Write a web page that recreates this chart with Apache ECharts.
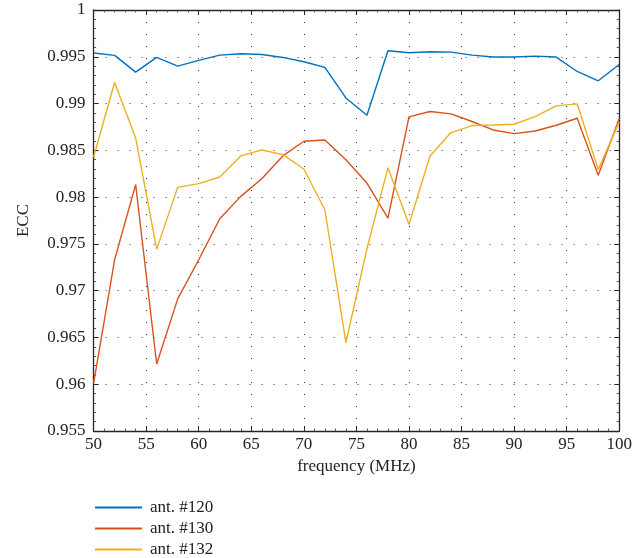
<!DOCTYPE html>
<html>
<head>
<meta charset="utf-8">
<script src="https://cdn.jsdelivr.net/npm/echarts@6/dist/echarts.min.js"></script>
<style>html,body{margin:0;padding:0;background:#fff;}#c{width:635px;height:558px;}</style>
</head>
<body>
<div id="c"></div>
<script>
const freq = [50,52,54,56,58,60,62,64,66,68,70,72,74,76,78,80,82,84,86,88,90,92,94,96,98,100];
const ant120 = [0.9954,0.99515,0.99336,0.99493,0.9940,0.99461,0.99518,0.99532,0.99525,0.99493,0.99447,0.99386,0.9906,0.98875,0.99564,0.99543,0.99554,0.9955,0.99518,0.99497,0.99497,0.99507,0.99497,0.99343,0.99243,0.99418];
const ant130 = [0.96008,0.9733,0.98133,0.96216,0.96912,0.9733,0.97769,0.98008,0.98197,0.9844,0.98597,0.98611,0.9840,0.9815,0.97776,0.98857,0.98915,0.9889,0.98808,0.98718,0.98679,0.98707,0.98768,0.98843,0.98233,0.9884];
const ant132 = [0.98429,0.99225,0.98633,0.97444,0.98104,0.98144,0.98215,0.9844,0.98504,0.98454,0.983,0.97865,0.96444,0.9745,0.98315,0.97708,0.9844,0.9869,0.98765,0.9877,0.98779,0.98861,0.98975,0.98997,0.98294,0.98804];
const seriesNames = ['ant. #120','ant. #130','ant. #132'];
const colors = ['#0072BD','#D95319','#EDB120'];
const yTicks = ['1','0.995','0.99','0.985','0.98','0.975','0.97','0.965','0.96','0.955'];

const font = '"Liberation Serif", "DejaVu Serif", serif';
const fs = 17;
const chart = echarts.init(document.getElementById('c'), null, {renderer:'canvas'});
const pair = a => freq.map((f,i)=>[f,a[i]]);
const gridLine = {show:true, lineStyle:{color:'#333', type:[1,11], width:1}};
const axLine = {show:true, onZero:false, lineStyle:{color:'#262626', width:1.3}};
const legendTops = [499, 520, 541];
chart.setOption({
  animation:false,
  color: colors,
  grid:{left:93.6, right:10.5, top:10, bottom:127, containLabel:false},
  xAxis:[{
    type:'value', min:50, max:100, interval:5, position:'bottom',
    name:'frequency (MHz)', nameLocation:'middle', nameGap:27,
    nameTextStyle:{fontFamily:font, fontSize:fs, color:'#222'},
    axisLine:axLine,
    axisTick:{show:true, inside:true, length:5, lineStyle:{color:'#262626'}},
    minorTick:{show:true, splitNumber:5, length:2.5, lineStyle:{color:'#555'}},
    axisLabel:{fontFamily:font, fontSize:fs, color:'#222', margin:5},
    splitLine:gridLine
  },{
    type:'value', min:50, max:100, interval:5, position:'top',
    axisLine:axLine,
    axisTick:{show:true, inside:true, length:5, lineStyle:{color:'#262626'}},
    minorTick:{show:true, splitNumber:5, length:2.5, lineStyle:{color:'#555'}},
    axisLabel:{show:false}, splitLine:{show:false}
  }],
  yAxis:[{
    type:'value', min:0.955, max:1, interval:0.005, position:'left',
    name:'ECC', nameLocation:'middle', nameGap:62, nameRotate:90,
    nameTextStyle:{fontFamily:font, fontSize:fs, color:'#222'},
    axisLine:axLine,
    axisTick:{show:true, inside:true, length:5, lineStyle:{color:'#262626'}},
    minorTick:{show:true, splitNumber:5, length:2.5, lineStyle:{color:'#555'}},
    axisLabel:{fontFamily:font, fontSize:fs, color:'#222', margin:8,
      formatter:(v)=>{const idx=Math.round((1-v)/0.005); return yTicks[idx]!==undefined?yTicks[idx]:'';}},
    splitLine:gridLine
  },{
    type:'value', min:0.955, max:1, interval:0.005, position:'right',
    axisLine:axLine,
    axisTick:{show:true, inside:true, length:5, lineStyle:{color:'#262626'}},
    minorTick:{show:true, splitNumber:5, length:2.5, lineStyle:{color:'#555'}},
    axisLabel:{show:false}, splitLine:{show:false}
  }],
  legend: seriesNames.map((n,i)=>({
    orient:'vertical', left:95, top:legendTops[i], itemWidth:47, itemHeight:2, padding:0,
    icon:'rect',
    textStyle:{fontFamily:font, fontSize:fs, color:'#222', padding:[0,0,0,3]},
    data:[n]
  })),
  series:[ant120,ant130,ant132].map((d,i)=>({
    name:seriesNames[i], type:'line', data:pair(d), showSymbol:false, symbol:'none',
    lineStyle:{width:1.4, color:colors[i]}, itemStyle:{color:colors[i]}
  }))
});
</script>
</body>
</html>
